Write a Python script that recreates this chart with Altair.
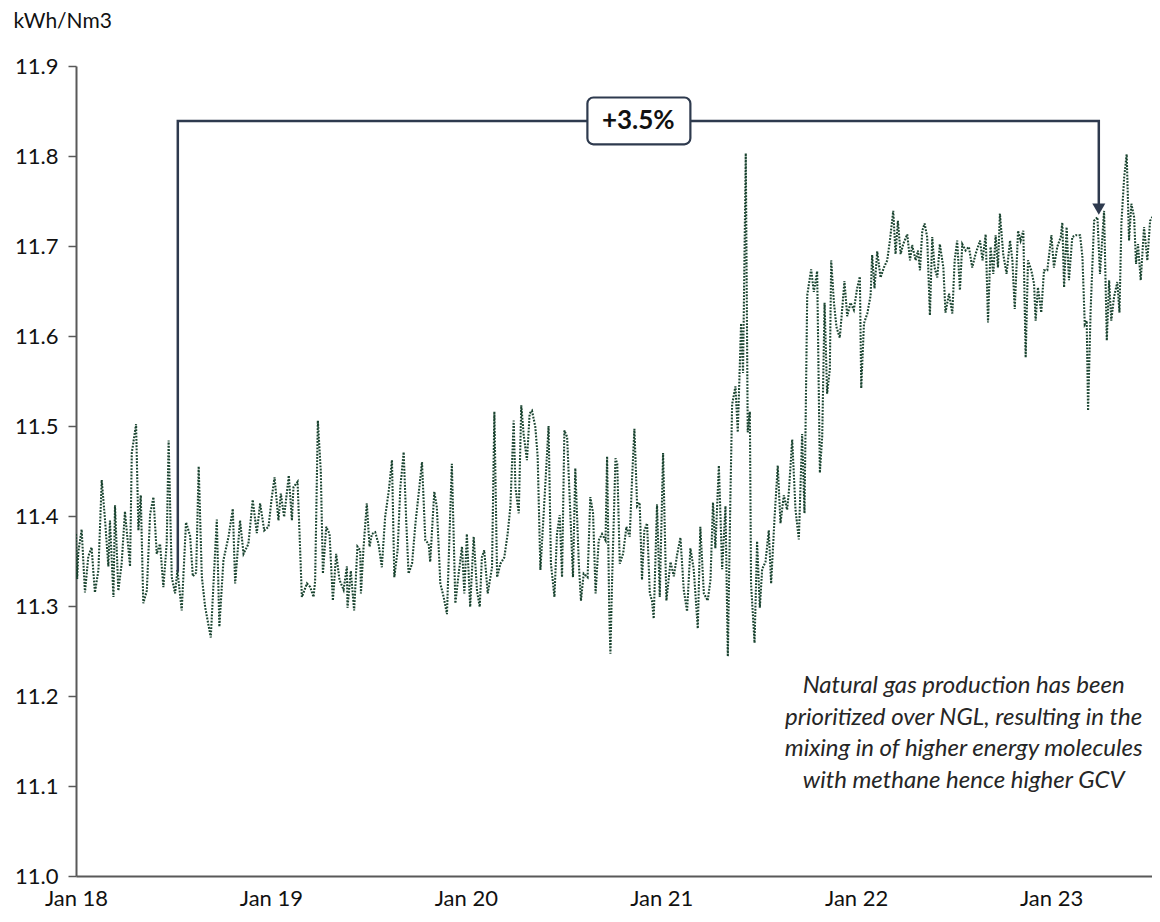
import altair as alt
import pandas as pd

# ---- main series: time in decimal years since 1 Jan 2018, GCV in kWh/Nm3 ----
t_year = [
    0.000, 0.006, 0.012, 0.029, 0.046, 0.063, 0.080, 0.097, 0.115, 0.132, 0.149, 0.166, 0.174, 0.192,
    0.200, 0.217, 0.234, 0.251, 0.277, 0.286, 0.308, 0.320, 0.332, 0.345, 0.363, 0.380, 0.397, 0.414,
    0.431, 0.448, 0.465, 0.475, 0.491, 0.508, 0.520, 0.542, 0.564, 0.585, 0.599, 0.616, 0.629, 0.645,
    0.662, 0.691, 0.713, 0.722, 0.735, 0.756, 0.782, 0.804, 0.816, 0.841, 0.859, 0.884, 0.906, 0.927,
    0.944, 0.965, 0.987, 1.004, 1.018, 1.038, 1.050, 1.067, 1.091, 1.107, 1.115, 1.136, 1.146, 1.158,
    1.184, 1.201, 1.218, 1.226, 1.240, 1.255, 1.266, 1.283, 1.300, 1.317, 1.334, 1.351, 1.372, 1.389,
    1.392, 1.409, 1.426, 1.443, 1.457,
    1.461, 1.474, 1.491, 1.505, 1.517, 1.534, 1.551, 1.568, 1.585, 1.603, 1.620, 1.632, 1.649, 1.663,
    1.680, 1.693, 1.705, 1.723, 1.740, 1.757, 1.774, 1.791, 1.808, 1.816, 1.837, 1.850, 1.868, 1.885,
    1.902, 1.916, 1.927, 1.945, 1.962, 1.979, 1.991, 2.004, 2.021, 2.039, 2.056, 2.070, 2.081, 2.093,
    2.111, 2.133, 2.145, 2.159, 2.176, 2.196, 2.213, 2.227, 2.244, 2.253, 2.270, 2.283, 2.295, 2.312,
    2.326, 2.338, 2.355, 2.367, 2.381, 2.398, 2.423, 2.435, 2.453, 2.466, 2.480, 2.492, 2.504, 2.518,
    2.531, 2.548, 2.560, 2.578, 2.589, 2.603, 2.623, 2.637, 2.651, 2.664, 2.680, 2.697, 2.715, 2.723,
    2.734, 2.740, 2.749, 2.766, 2.775, 2.788, 2.805, 2.822, 2.839, 2.851,
    2.863, 2.877, 2.890, 2.902, 2.914, 2.928, 2.942, 2.953, 2.962, 2.979, 2.993, 3.010, 3.027, 3.048,
    3.065, 3.082, 3.099, 3.116, 3.133, 3.150, 3.167, 3.188, 3.201, 3.219, 3.239, 3.253, 3.266, 3.278,
    3.296, 3.313, 3.330, 3.342, 3.355, 3.364, 3.381, 3.393, 3.410, 3.420, 3.434, 3.444, 3.455, 3.461,
    3.479, 3.492, 3.506, 3.518, 3.535, 3.552, 3.564, 3.581, 3.598, 3.612, 3.629, 3.646, 3.655, 3.672,
    3.689, 3.706, 3.723, 3.735, 3.749, 3.769, 3.783, 3.800, 3.814, 3.826, 3.838, 3.851, 3.865, 3.872,
    3.886, 3.899, 3.916, 3.928, 3.940, 3.954, 3.971, 3.988, 4.005, 4.019, 4.026, 4.040, 4.057, 4.074,
    4.082, 4.094, 4.108,
    4.125, 4.142, 4.159, 4.173, 4.190, 4.202, 4.214, 4.228, 4.241, 4.262, 4.276, 4.287, 4.305, 4.317,
    4.327, 4.339, 4.351, 4.364, 4.378, 4.390, 4.402, 4.416, 4.429, 4.447, 4.458, 4.476, 4.493, 4.505,
    4.518, 4.532, 4.544, 4.561, 4.578, 4.595, 4.612, 4.635, 4.648, 4.664, 4.676, 4.689, 4.703, 4.715,
    4.727, 4.737, 4.754, 4.771, 4.789, 4.801, 4.813, 4.830, 4.843, 4.857, 4.869, 4.881, 4.898, 4.912,
    4.920, 4.932, 4.949, 4.963, 4.980, 5.001, 5.014, 5.031, 5.049, 5.057, 5.066, 5.079, 5.091, 5.108,
    5.126, 5.148, 5.160, 5.172, 5.182, 5.189, 5.202, 5.220, 5.237, 5.250, 5.271, 5.285, 5.297, 5.308,
    5.322, 5.339, 5.350, 5.360, 5.374, 5.387, 5.399, 5.411, 5.425, 5.435, 5.445, 5.459, 5.476, 5.493,
    5.507, 5.524, 5.536, 5.545,
]

gcv = [
    11.380, 11.330, 11.360, 11.385, 11.315, 11.355, 11.365, 11.315, 11.340, 11.440, 11.395, 11.344, 11.395, 11.310,
    11.412, 11.317, 11.347, 11.405, 11.344, 11.470, 11.502, 11.384, 11.423, 11.303, 11.317, 11.402, 11.421, 11.358,
    11.369, 11.321, 11.369, 11.484, 11.332, 11.314, 11.340, 11.295, 11.393, 11.378, 11.333, 11.337, 11.455, 11.333,
    11.299, 11.265, 11.359, 11.396, 11.277, 11.351, 11.377, 11.408, 11.325, 11.395, 11.358, 11.369, 11.418, 11.381,
    11.414, 11.384, 11.388, 11.421, 11.443, 11.395, 11.425, 11.399, 11.445, 11.395, 11.432, 11.438, 11.381, 11.310,
    11.325, 11.321, 11.310, 11.328, 11.506, 11.450, 11.336, 11.388, 11.380, 11.306, 11.358, 11.329, 11.318, 11.344,
    11.298, 11.339, 11.295, 11.366, 11.362,
    11.314, 11.364, 11.414, 11.366, 11.380, 11.382, 11.369, 11.343, 11.399, 11.427, 11.462, 11.332, 11.362, 11.432,
    11.471, 11.395, 11.336, 11.347, 11.391, 11.425, 11.460, 11.373, 11.369, 11.349, 11.427, 11.410, 11.325, 11.310,
    11.291, 11.386, 11.458, 11.303, 11.336, 11.366, 11.314, 11.380, 11.299, 11.377, 11.317, 11.299, 11.354, 11.362,
    11.314, 11.343, 11.516, 11.332, 11.347, 11.354, 11.380, 11.410, 11.506, 11.432, 11.403, 11.523, 11.491, 11.462,
    11.514, 11.517, 11.499, 11.466, 11.340, 11.403, 11.500, 11.347, 11.310, 11.380, 11.401, 11.332, 11.495, 11.488,
    11.421, 11.332, 11.453, 11.347, 11.306, 11.336, 11.332, 11.421, 11.403, 11.314, 11.373, 11.380, 11.373, 11.466,
    11.295, 11.247, 11.332, 11.464, 11.458, 11.347, 11.358, 11.388, 11.377, 11.441,
    11.497, 11.411, 11.415, 11.329, 11.384, 11.392, 11.314, 11.306, 11.286, 11.413, 11.310, 11.470, 11.306, 11.349,
    11.333, 11.357, 11.376, 11.318, 11.294, 11.364, 11.341, 11.275, 11.388, 11.314, 11.306, 11.329, 11.415, 11.364,
    11.456, 11.341, 11.411, 11.244, 11.419, 11.524, 11.544, 11.493, 11.614, 11.559, 11.803, 11.493, 11.516, 11.325,
    11.259, 11.372, 11.298, 11.341, 11.349, 11.384, 11.325, 11.396, 11.456, 11.392, 11.423, 11.407, 11.427, 11.485,
    11.407, 11.374, 11.491, 11.403, 11.645, 11.674, 11.649, 11.672, 11.448, 11.489, 11.637, 11.536, 11.563, 11.684,
    11.637, 11.610, 11.598, 11.629, 11.661, 11.622, 11.637, 11.629, 11.653, 11.666, 11.542, 11.614, 11.625, 11.645,
    11.690, 11.653, 11.694,
    11.665, 11.676, 11.684, 11.706, 11.739, 11.691, 11.728, 11.691, 11.702, 11.713, 11.684, 11.701, 11.684, 11.695,
    11.673, 11.717, 11.725, 11.710, 11.623, 11.710, 11.676, 11.665, 11.702, 11.676, 11.626, 11.647, 11.625, 11.684,
    11.706, 11.651, 11.702, 11.695, 11.699, 11.676, 11.691, 11.706, 11.684, 11.713, 11.615, 11.699, 11.669, 11.712,
    11.676, 11.736, 11.691, 11.669, 11.706, 11.684, 11.630, 11.717, 11.706, 11.717, 11.576, 11.684, 11.673, 11.658,
    11.617, 11.654, 11.626, 11.673, 11.673, 11.712, 11.676, 11.699, 11.710, 11.726, 11.654, 11.721, 11.662, 11.710,
    11.712, 11.712, 11.688, 11.613, 11.617, 11.517, 11.628, 11.728, 11.732, 11.669, 11.739, 11.595, 11.662, 11.617,
    11.643, 11.660, 11.626, 11.726, 11.776, 11.802, 11.706, 11.747, 11.732, 11.680, 11.702, 11.662, 11.721, 11.684,
    11.728, 11.734, 11.713, 11.728,
]

# ---- annotation: bracket from mid-2018 to spring 2023 ----
bracket_t = [0.522, 0.522, 5.244, 5.244]
bracket_v = [11.338, 11.839, 11.839, 11.745]
arrow_t = [5.244]
arrow_v = [11.741]
label_text = ["+3.5%"]
label_box_t = [2.622, 3.150]
label_box_v = [11.813, 11.865]
note_text = ["Natural gas production has been\nprioritized over NGL, resulting in the\n"
             "mixing in of higher energy molecules\nwith methane hence higher GCV"]
note_t = [4.551]
note_v = [11.211]

y_ticks = [11.0, 11.1, 11.2, 11.3, 11.4, 11.5, 11.6, 11.7, 11.8, 11.9]
x_tick_years = [2018, 2019, 2020, 2021, 2022, 2023]

BASE = pd.Timestamp("2018-01-01")


def to_date(t):
    return BASE + pd.Timedelta(days=t * 365.25)


FONT = "Lato"
LINE_GREEN = "#1A4430"
NAVY = "#2E3A4E"
AXIS_GREY = "#595959"

series = pd.DataFrame({"date": [to_date(t) for t in t_year], "gcv": gcv})
bracket = pd.DataFrame({"date": [to_date(t) for t in bracket_t], "gcv": bracket_v,
                        "i": list(range(len(bracket_t)))})
arrow = pd.DataFrame({"date": [to_date(t) for t in arrow_t], "gcv": arrow_v})
box = pd.DataFrame({"date": [to_date(label_box_t[0])], "date2": [to_date(label_box_t[1])],
                    "gcv": [label_box_v[0]], "gcv2": [label_box_v[1]]})
label = pd.DataFrame({"date": [to_date((bracket_t[0] + bracket_t[2]) / 2)],
                      "gcv": [bracket_v[1]], "txt": label_text})
note = pd.DataFrame({"date": [to_date(t) for t in note_t], "gcv": note_v, "txt": note_text})

x_scale = alt.Scale(domain=[alt.DateTime(year=2018, month=1, date=1),
                            alt.DateTime(year=2023, month=7, date=9)])
y_scale = alt.Scale(domain=[11.0, 11.9], nice=False, zero=False)

x_axis = alt.Axis(
    values=[alt.DateTime(year=y, month=1, date=1) for y in x_tick_years],
    format="%b %y", title=None, grid=False, ticks=False,
    domainColor=AXIS_GREY, domainWidth=2,
    labelFont=FONT, labelFontSize=22, labelColor="#111111", labelPadding=12,
    labelFlush=False,
)
y_axis = alt.Axis(
    values=y_ticks, format=".1f", grid=False,
    tickSize=8, tickWidth=1.5, tickColor=AXIS_GREY,
    domainColor=AXIS_GREY, domainWidth=2,
    labelFont=FONT, labelFontSize=22, labelColor="#111111", labelPadding=10,
    title="kWh/Nm3", titleAngle=0, titleAlign="left", titleBaseline="middle",
    titleX=-63, titleY=-45, titleFont=FONT, titleFontSize=21,
    titleFontWeight="normal", titleColor="#111111",
)

X = alt.X("date:T", scale=x_scale, axis=x_axis)
Y = alt.Y("gcv:Q", scale=y_scale, axis=y_axis)

line = alt.Chart(series).mark_line(
    color=LINE_GREEN, strokeWidth=2.1, strokeDash=[1.8, 1.4], clip=True
).encode(x=X, y=Y)

bracket_line = alt.Chart(bracket).mark_line(
    color=NAVY, strokeWidth=2.5, strokeJoin="miter"
).encode(x=X, y=Y, order="i:Q")

arrow_head = alt.Chart(arrow).mark_point(
    shape="triangle-down", filled=True, size=170, color=NAVY, opacity=1
).encode(x=X, y=Y)

label_box = alt.Chart(box).mark_rect(
    fill="white", stroke=NAVY, strokeWidth=2.2, cornerRadius=6
).encode(x=X, x2="date2:T", y=Y, y2="gcv2:Q")

label_txt = alt.Chart(label).mark_text(
    font=FONT, fontSize=26, fontWeight="bold", color="#111111",
    align="center", baseline="middle"
).encode(x=X, y=Y, text="txt:N")

note_txt = alt.Chart(note).mark_text(
    font=FONT, fontSize=24, fontStyle="italic", color="#262626",
    align="center", baseline="middle", lineBreak="\n", lineHeight=31.7
).encode(x=X, y=Y, text="txt:N")

chart = alt.layer(
    line, bracket_line, arrow_head, label_box, label_txt, note_txt
).properties(
    width=1076, height=810,
    padding={"left": 68, "top": 58, "right": 0, "bottom": 36},
    autosize=alt.AutoSizeParams(type="none"),
    background="white",
).configure_view(stroke=None)

chart.save("out.html", embed_options={"renderer": "svg", "actions": False})
